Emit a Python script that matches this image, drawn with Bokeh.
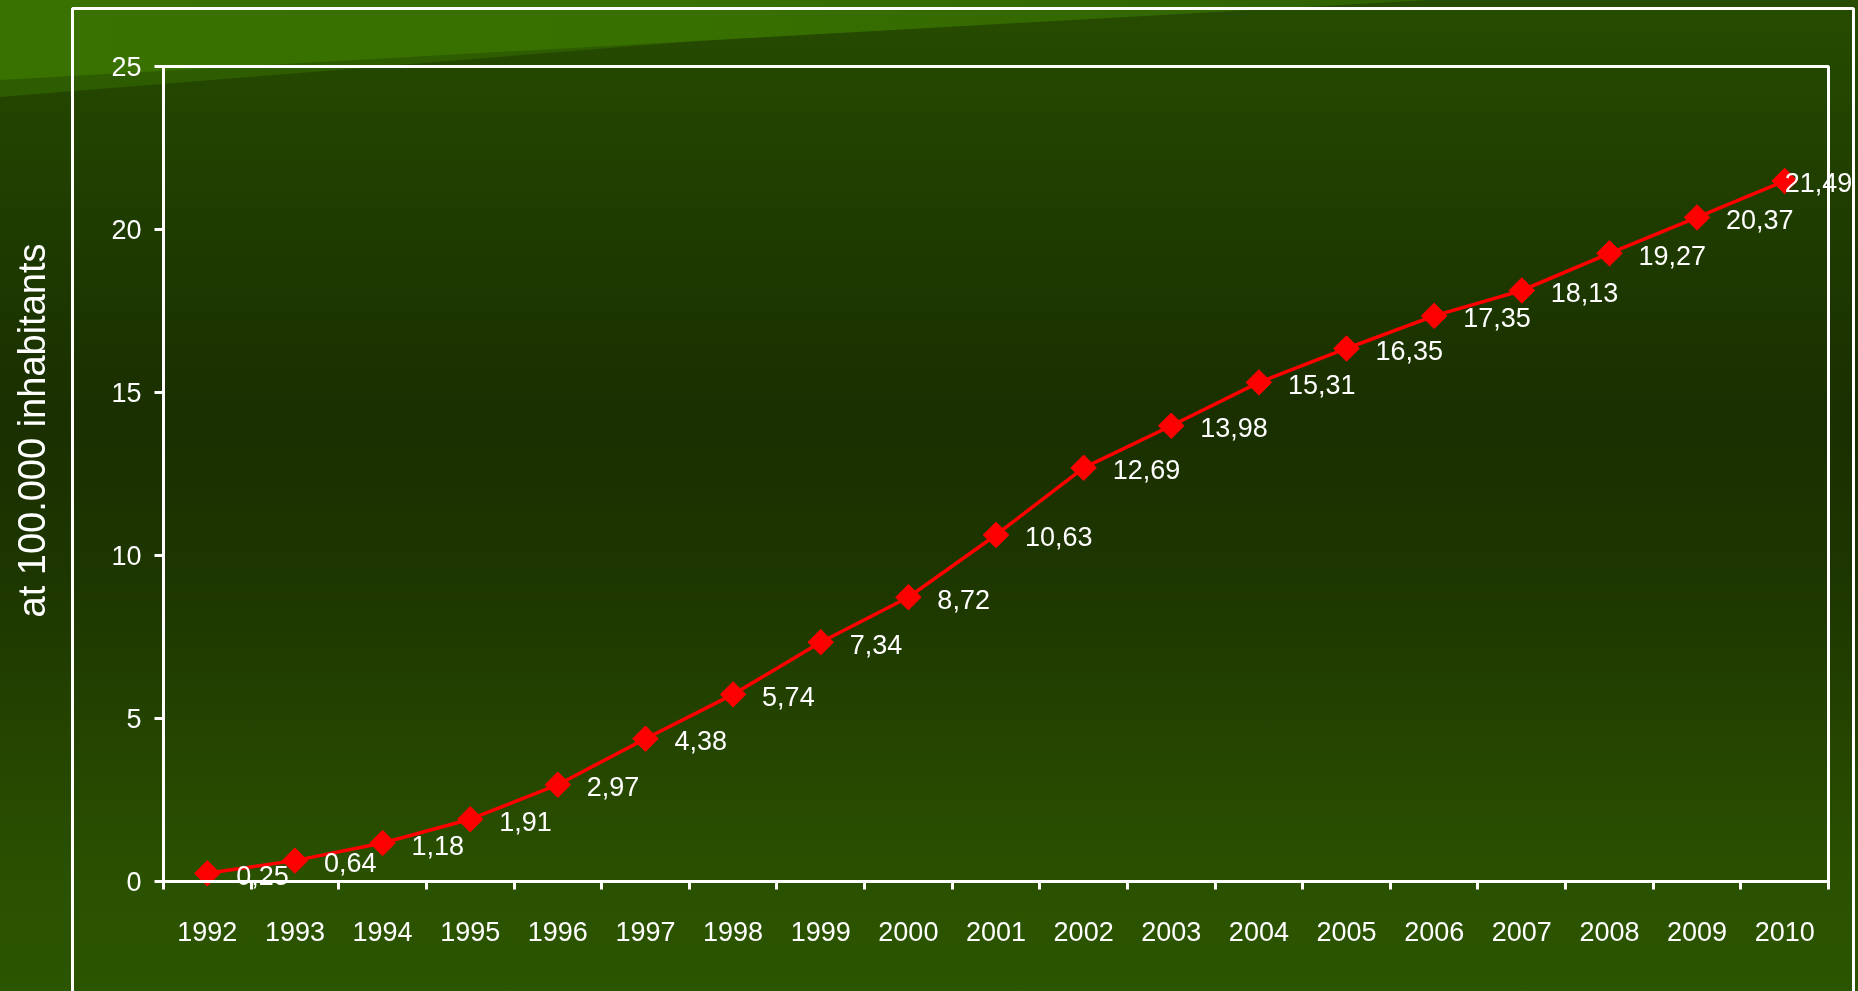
from bokeh.plotting import figure
from bokeh.models import (ColumnDataSource, Range1d, FixedTicker, BoxAnnotation,
                          LabelSet, Label, GlobalInlineStyleSheet)
from bokeh.core.properties import value
from bokeh.embed import file_html
from bokeh.resources import INLINE

# ---- data -------------------------------------------------------------
years = [1992, 1993, 1994, 1995, 1996, 1997, 1998, 1999, 2000, 2001,
         2002, 2003, 2004, 2005, 2006, 2007, 2008, 2009, 2010]
rates = [0.25, 0.64, 1.18, 1.91, 2.97, 4.38, 5.74, 7.34, 8.72, 10.63,
         12.69, 13.98, 15.31, 16.35, 17.35, 18.13, 19.27, 20.37, 21.49]
y_ticks = [0, 5, 10, 15, 20, 25]
y_label = "at 100.000 inhabitants"

labels = [f"{v:.2f}".replace(".", ",") for v in rates]
dx = [29] * (len(years) - 1) + [0]   # last label sits on its marker

FONT = "Liberation Sans"
W, H = 1858, 991
# plot-area box on the page (pixels)
PL, PR, PT, PB = 163, 1828, 66, 881

x0, x1 = years[0] - 0.5, years[-1] + 0.5
y0, y1 = y_ticks[0], y_ticks[-1]
ux = (PR - PL) / (x1 - x0)
uy = (PB - PT) / (y1 - y0)

css = """
html {
  height: 100%;
  overflow: hidden;
  background: linear-gradient(180deg, #264c00 0px, #234500 100px, #1e3a00 250px,
              #1a2f00 420px, #1e3800 600px, #264800 780px, #2a5100 880px, #2c5500 991px);
}
body { margin: 0; overflow: hidden; background: transparent; }
body::before {
  content: ""; position: fixed; left: 0; top: 0; width: 1858px; height: 120px; z-index: -1;
  background: #2e5c00;
  clip-path: polygon(0px 79px, 710px 40px, 0px 97px);
}
body::after {
  content: ""; position: fixed; left: 0; top: 0; width: 1858px; height: 120px; z-index: -1;
  background: linear-gradient(90deg, #3a7200 0px, #387000 700px, #306200 1430px);
  clip-path: polygon(0px 0px, 1430px 0px, 0px 80px);
}
"""

src = ColumnDataSource(dict(year=years, rate=rates, label=labels, dx=dx))

p = figure(width=W, height=H, output_backend="svg", toolbar_location=None,
           x_range=Range1d(x0 - PL / ux, x1 + (W - PR) / ux),
           y_range=Range1d(y0 - (H - PB) / uy, y1 + PT / uy),
           min_border=0,
           border_fill_color=None, background_fill_color=None,
           outline_line_color=None,
           stylesheets=[GlobalInlineStyleSheet(css=css)])
p.extra_x_ranges = {"px": Range1d(0, W)}
p.extra_y_ranges = {"px": Range1d(H, 0)}

p.xgrid.visible = False
p.ygrid.visible = False

# x axis: labels at year centres, ticks at the boundaries between years
xa = p.xaxis[0]
xa.fixed_location = y0
xa.bounds = (x0, x1)
xa.ticker = FixedTicker(ticks=years,
                        minor_ticks=[y - 0.5 for y in years] + [years[-1] + 0.5])
xa.major_label_overrides = {y: str(y) for y in years}
xa.major_tick_line_color = None
xa.major_tick_out = 8
xa.major_tick_in = 0
xa.minor_tick_line_color = "white"
xa.minor_tick_line_width = 3
xa.minor_tick_out = 8
xa.minor_tick_in = 0
xa.axis_line_color = "white"
xa.axis_line_width = 3
xa.major_label_standoff = 32
xa.major_label_text_color = "white"
xa.major_label_text_font = FONT
xa.major_label_text_font_size = "27px"

ya = p.yaxis[0]
ya.fixed_location = x0
ya.bounds = (y0, y1)
ya.ticker = FixedTicker(ticks=y_ticks, minor_ticks=[])
ya.major_tick_line_color = "white"
ya.major_tick_line_width = 3
ya.major_tick_out = 9
ya.major_tick_in = 0
ya.axis_line_color = "white"
ya.axis_line_width = 3
ya.major_label_standoff = 13
ya.major_label_text_color = "white"
ya.major_label_text_font = FONT
ya.major_label_text_font_size = "27px"

# y-axis title
p.add_layout(Label(x=31, y=430, x_range_name="px", y_range_name="px",
                   text=y_label, angle=90, angle_units="deg",
                   text_align="center", text_baseline="middle",
                   text_font=FONT, text_font_size="38px", text_color="white"))

# top and right edges of the plot area
p.quad(left=[x0], right=[x1], bottom=[y0], top=[y1],
       fill_color=None, line_color="white", line_width=3)

# outer white frame of the slide
p.add_layout(BoxAnnotation(left=72, right=1853, top=8, bottom=1100,
                           left_units="canvas", right_units="canvas",
                           top_units="canvas", bottom_units="canvas",
                           fill_color=None, fill_alpha=0,
                           line_color="white", line_alpha=1.0, line_width=3))

# series
p.line(x="year", y="rate", source=src, line_color="#ff0000", line_width=3.5)
p.scatter(x="year", y="rate", source=src, marker="square", angle=45,
          angle_units="deg", size=18,
          fill_color="#ff0000", line_color="#ff0000", line_width=1)

p.add_layout(LabelSet(x="year", y="rate", text="label", source=src,
                      x_offset="dx", y_offset=-2,
                      text_font=value(FONT), text_font_size="27px",
                      text_color="white", text_align="left",
                      text_baseline="middle"))

open("out.html", "w").write(file_html(p, INLINE))
